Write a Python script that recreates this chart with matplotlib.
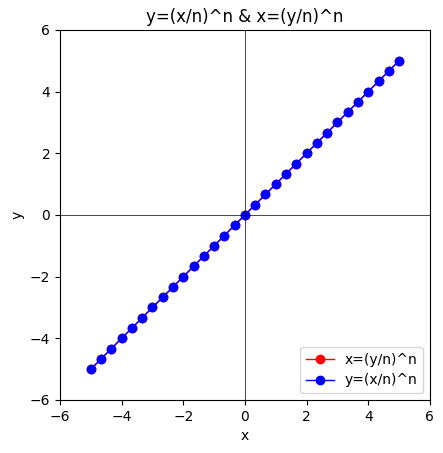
import matplotlib
matplotlib.use("Agg")
import matplotlib.pyplot as plt

# sample points, step 1/3 from -5 to 5 (n = 1, so both curves coincide)
x_vals = [-5.0, -4.667, -4.333, -4.0, -3.667, -3.333, -3.0, -2.667, -2.333, -2.0,
          -1.667, -1.333, -1.0, -0.667, -0.333, 0.0, 0.333, 0.667, 1.0, 1.333,
          1.667, 2.0, 2.333, 2.667, 3.0, 3.333, 3.667, 4.0, 4.333, 4.667, 5.0]
y_vals = list(x_vals)

ticks = [-6, -4, -2, 0, 2, 4, 6]

fig = plt.figure(figsize=(4.43, 4.53), dpi=100)
ax = fig.add_axes([0.1354, 0.117, 0.835, 0.817])

# x=(y/n)^n drawn first, y=(x/n)^n on top
ax.plot(y_vals, x_vals, color='red', marker='o', linewidth=1, label='x=(y/n)^n')
ax.plot(x_vals, y_vals, color='blue', marker='o', linewidth=1, label='y=(x/n)^n')

ax.axhline(0, color='black', linewidth=0.5)
ax.axvline(0, color='black', linewidth=0.5)

ax.set_xlim(-6, 6)
ax.set_ylim(-6, 6)
ax.set_xticks(ticks)
ax.set_yticks(ticks)
ax.set_xlabel('x')
ax.set_ylabel('y')
ax.set_title('y=(x/n)^n & x=(y/n)^n')
ax.legend(loc='lower right')

fig.savefig('out.png', dpi=100)
